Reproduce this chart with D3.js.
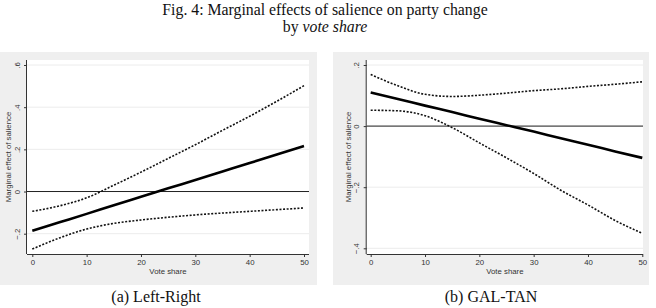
<!DOCTYPE html>
<html>
<head>
<meta charset="utf-8">
<script src="https://cdn.jsdelivr.net/npm/d3@7"></script>
<style>
  html, body { margin: 0; padding: 0; background: #fff; }
  svg { display: block; }
</style>
</head>
<body>
<svg id="chart" width="656" height="308"></svg>
<script>
// ---- data ----
const voteShare = [0, 5, 10, 15, 20, 25, 30, 35, 40, 45, 50];

const lrEffect = [-0.186, -0.146, -0.106, -0.065, -0.025, 0.015, 0.055, 0.095, 0.135, 0.176, 0.216];
const lrUpper  = [-0.094, -0.068, -0.030, 0.030, 0.092, 0.157, 0.222, 0.290, 0.357, 0.428, 0.502];
const lrLower  = [-0.273, -0.220, -0.178, -0.151, -0.135, -0.122, -0.111, -0.102, -0.094, -0.086, -0.078];

const gtEffect = [0.110, 0.089, 0.067, 0.046, 0.024, 0.003, -0.018, -0.040, -0.061, -0.083, -0.104];
const gtUpper  = [0.169, 0.132, 0.104, 0.097, 0.101, 0.108, 0.116, 0.122, 0.130, 0.137, 0.145];
const gtLower  = [0.052, 0.050, 0.034, -0.005, -0.055, -0.104, -0.155, -0.210, -0.258, -0.309, -0.351];

const xTicks = [0, 10, 20, 30, 40, 50];
const lrYTicks = [-0.2, 0, 0.2, 0.4, 0.6];
const gtYTicks = [-0.4, -0.2, 0, 0.2];

const titleLine1 = "Fig. 4: Marginal effects of salience on party change";
const titleLine2a = "by ";
const titleLine2b = "vote share";
const xTitle = "Vote share";
const yTitle = "Marginal effect of salience";
const captions = ["(a) Left-Right", "(b) GAL-TAN"];

// ---- layout ----
const svg = d3.select("#chart");
const sans = "'Liberation Sans', Arial, sans-serif";
const serif = "'Liberation Serif', 'Times New Roman', serif";

svg.append("text")
  .attr("x", 325).attr("y", 14.5)
  .attr("text-anchor", "middle")
  .attr("font-family", serif).attr("font-size", 15.8).attr("fill", "#111")
  .text(titleLine1);
const t2 = svg.append("text")
  .attr("x", 325).attr("y", 32)
  .attr("text-anchor", "middle")
  .attr("font-family", serif).attr("font-size", 15.8).attr("fill", "#111");
t2.append("tspan").text(titleLine2a);
t2.append("tspan").attr("font-style", "italic").text(titleLine2b);

const panels = [
  { bg: [0, 52, 317, 285], plot: [27, 60, 309, 254], xr: [32.3, 304], yd: [-0.2, 0.6], yr: [233.7, 65],
    ticks: lrYTicks, effect: lrEffect, upper: lrUpper, lower: lrLower, cap: captions[0], capX: 156 },
  { bg: [333, 52, 649, 285], plot: [366.7, 60, 643, 254], xr: [370.7, 642.3], yd: [-0.4, 0.2], yr: [248.3, 65],
    ticks: gtYTicks, effect: gtEffect, upper: gtUpper, lower: gtLower, cap: captions[1], capX: 491 }
];

const fmt = d => d === 0 ? "0" : d3.format(".1f")(d).replace("0.", ".");

panels.forEach(p => {
  const g = svg.append("g");
  g.append("rect")
    .attr("x", p.bg[0]).attr("y", p.bg[1])
    .attr("width", p.bg[2] - p.bg[0]).attr("height", p.bg[3] - p.bg[1])
    .attr("fill", "#efefef");
  const [L, T, R, B] = p.plot;
  g.append("rect")
    .attr("x", L).attr("y", T).attr("width", R - L).attr("height", B - T)
    .attr("fill", "#ffffff");

  const x = d3.scaleLinear().domain([0, 50]).range(p.xr);
  const y = d3.scaleLinear().domain(p.yd).range(p.yr);

  g.append("g").selectAll("line").data(p.ticks).join("line")
    .attr("x1", L).attr("x2", R)
    .attr("y1", d => y(d)).attr("y2", d => y(d))
    .attr("stroke", "#ececec").attr("stroke-width", 1);

  g.append("line")
    .attr("x1", L).attr("x2", R)
    .attr("y1", y(0)).attr("y2", y(0))
    .attr("stroke", "#222").attr("stroke-width", 1);

  const line = d3.line().x((d, i) => x(voteShare[i])).y(d => y(d)).curve(d3.curveMonotoneX);
  [p.upper, p.lower].forEach(arr => {
    g.append("path").attr("d", line(arr))
      .attr("fill", "none").attr("stroke", "#111")
      .attr("stroke-width", 1.6).attr("stroke-dasharray", "2,1.6");
  });
  g.append("path").attr("d", line(p.effect))
    .attr("fill", "none").attr("stroke", "#000").attr("stroke-width", 2.6);

  const xAxis = g.append("g").attr("transform", `translate(0,${B})`)
    .call(d3.axisBottom(x).tickValues(xTicks).tickSize(3).tickPadding(2).tickFormat(d3.format("d")));
  xAxis.select(".domain").attr("d", `M${L},0.5H${R}`).attr("stroke", "#333");
  xAxis.selectAll(".tick line").attr("stroke", "#333");
  xAxis.selectAll("text").attr("font-family", sans).attr("font-size", 7.8).attr("fill", "#333");

  const yAxis = g.append("g").attr("transform", `translate(${L},0)`)
    .call(d3.axisLeft(y).tickValues(p.ticks).tickSize(3).tickPadding(2).tickFormat(fmt));
  yAxis.select(".domain").attr("d", `M-0.5,${T}V${B}`).attr("stroke", "#333");
  yAxis.selectAll(".tick line").attr("stroke", "#333");
  yAxis.selectAll("text")
    .attr("font-family", sans).attr("font-size", 7.8).attr("fill", "#333")
    .attr("text-anchor", "middle")
    .attr("x", null)
    .attr("transform", "translate(-7.5,0) rotate(-90)")
    .attr("y", 0).attr("dy", "0");

  g.append("text")
    .attr("x", (L + R) / 2).attr("y", 274)
    .attr("text-anchor", "middle")
    .attr("font-family", sans).attr("font-size", 7.8).attr("fill", "#333")
    .text(xTitle);
  g.append("text")
    .attr("transform", `translate(${L - 16},${(T + B) / 2}) rotate(-90)`)
    .attr("text-anchor", "middle")
    .attr("font-family", sans).attr("font-size", 7.8).attr("fill", "#333")
    .text(yTitle);

  svg.append("text")
    .attr("x", p.capX).attr("y", 302)
    .attr("text-anchor", "middle")
    .attr("font-family", serif).attr("font-size", 16).attr("fill", "#111")
    .text(p.cap);
});
</script>
</body>
</html>
